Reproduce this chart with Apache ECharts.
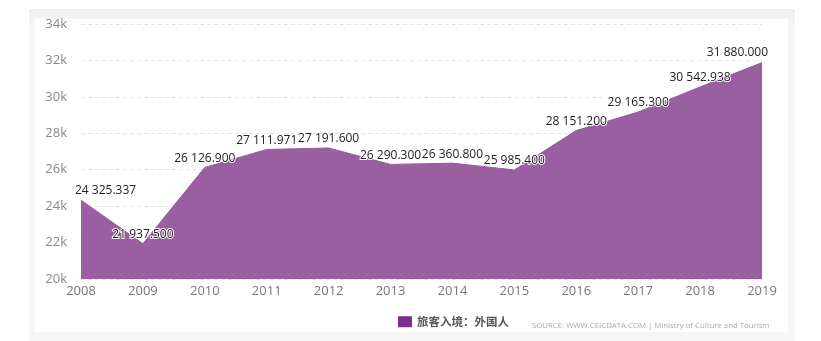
<!DOCTYPE html>
<html>
<head>
<meta charset="utf-8">
<script src="https://cdn.jsdelivr.net/npm/echarts@6/dist/echarts.min.js"></script>
<style>
  html, body { margin: 0; padding: 0; background: #ffffff; }
  #frame { position: absolute; left: 29px; top: 9px; width: 766px; height: 332px;
           background: linear-gradient(#eeeff0, #f5f5f6 12px, #f6f6f7); }
  #panel { position: absolute; left: 35px; top: 19px; width: 753px; height: 313px; background: #ffffff; }
  #chart { position: absolute; left: 0; top: 0; width: 821px; height: 341px; }
</style>
</head>
<body>
<div id="frame"></div>
<div id="panel"></div>
<div id="chart"></div>
<script>
// Annual foreign visitor arrivals (thousand persons)
const years = ['2008','2009','2010','2011','2012','2013','2014','2015','2016','2017','2018','2019'];
const arrivals = [24325.337, 21937.5, 26126.9, 27111.971, 27191.6, 26290.3, 26360.8, 25985.4, 28151.2, 29165.3, 30542.938, 31880.0];
const seriesName = '旅客入境：外国人';
const sourceText = 'SOURCE: WWW.CEICDATA.COM | Ministry of Culture and Tourism';

function fmtValue(v) {
  const parts = v.toFixed(3).split('.');
  parts[0] = parts[0].replace(/\B(?=(\d{3})+(?!\d))/g, ' ');
  return parts.join('.');
}

// keep value labels inside the horizontal span of the plot
const LABEL_MIN_X = 75, LABEL_MAX_X = 770;

const font = '"Open Sans", "Noto Sans", sans-serif';
const chart = echarts.init(document.getElementById('chart'));
chart.setOption({
  animation: false,
  textStyle: { fontFamily: font },
  grid: { left: 81, right: 59, top: 24, bottom: 62 },
  legend: {
    data: [seriesName],
    left: 393, top: 311,
    itemWidth: 14, itemHeight: 11,
    icon: 'rect',
    textStyle: { fontSize: 11.5, fontWeight: 'bold', color: '#555', fontFamily: '"Noto Sans CJK SC", sans-serif' },
    itemStyle: { color: '#7d2d8c', opacity: 1 }
  },
  graphic: [{
    type: 'text', left: 532, top: 322,
    style: { text: sourceText, fontSize: 7.8, fill: '#a8a8a8', fontFamily: font }
  }],
  xAxis: {
    type: 'category',
    data: years,
    boundaryGap: false,
    axisLine: { show: false },
    axisTick: { show: false },
    axisLabel: { color: '#777', fontSize: 13, margin: 6 }
  },
  yAxis: {
    type: 'value',
    min: 20000, max: 34000, interval: 2000,
    axisLine: { show: false },
    axisTick: { show: false },
    axisLabel: { color: '#888', fontSize: 13, margin: 14,
                 formatter: v => (v / 1000) + 'k' },
    splitLine: { lineStyle: { color: '#e4e4e4', type: [4, 3] } }
  },
  series: [{
    name: seriesName,
    type: 'line',
    data: arrivals,
    symbol: 'circle',
    symbolSize: 0.1,
    showSymbol: true,
    lineStyle: { color: '#93599c', width: 1 },
    itemStyle: { color: '#7d2d8c' },
    areaStyle: { color: '#995fa0', opacity: 1 },
    label: {
      show: true, position: 'top', distance: 3,
      formatter: p => fmtValue(p.value),
      fontSize: 12, color: '#222',
      textBorderColor: '#fff', textBorderWidth: 2,
      fontFamily: font
    },
    labelLayout: function (params) {
      const r = params.labelRect;
      if (r.x < LABEL_MIN_X) {
        return { x: LABEL_MIN_X, y: r.y, align: 'left', verticalAlign: 'top' };
      }
      if (r.x + r.width > LABEL_MAX_X) {
        return { x: LABEL_MAX_X - r.width, y: r.y, align: 'left', verticalAlign: 'top' };
      }
      return {};
    }
  }]
});
</script>
</body>
</html>
